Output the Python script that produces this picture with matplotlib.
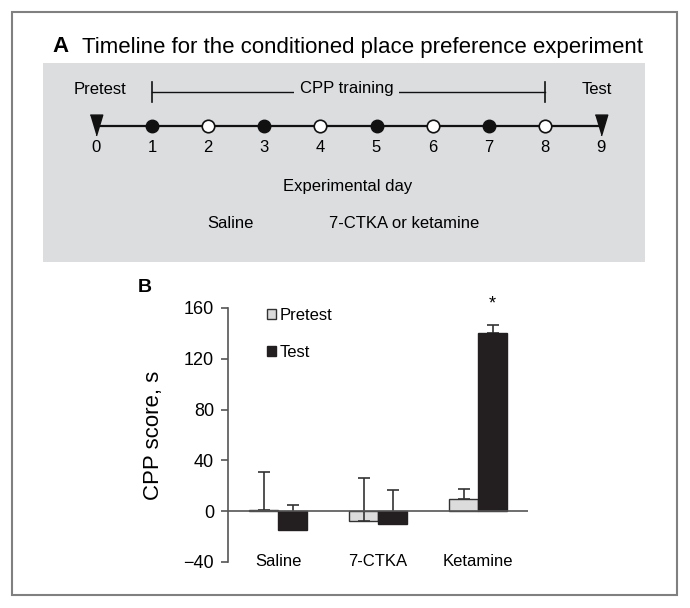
import matplotlib.pyplot as plt
import matplotlib.patches as patches
import numpy as np

plt.rcParams['font.family'] = ['Liberation Sans', 'DejaVu Sans']

# Timeline data (panel A)
days = np.arange(10)
saline_days = [1, 3, 5, 7]
drug_days = [2, 4, 6, 8]
test_days = [0, 9]

# CPP scores (panel B)
groups = ['Saline', '7-CTKA', 'Ketamine']
pretest = [1, -8, 10]
test = [-15, -10, 140]
pretest_err = [30, 34, 7.5]
test_err = [19.5, 26.5, 7]

W, H = 690, 608
fig = plt.figure(figsize=(W / 100, H / 100), dpi=100)

def fig_box(x0, y0, x1, y1):
    # pixel box (top-left origin) -> figure fraction rect
    return [x0 / W, 1 - y1 / H, (x1 - x0) / W, (y1 - y0) / H]

# outer frame
frame = fig_box(12, 12, 677, 595)
fig.patches.append(patches.Rectangle((frame[0], frame[1]), frame[2], frame[3],
                                     transform=fig.transFigure, fill=False,
                                     edgecolor='#808080', lw=1.5))

# ---- Panel A ----
fig.text(52 / W, 1 - 47 / H, 'A', fontsize=16, fontweight='bold', va='center')
fig.text(82 / W, 1 - 47 / H, 'Timeline for the conditioned place preference experiment',
         fontsize=16, va='center')

axA = fig.add_axes(fig_box(43, 63, 645, 262))
axA.set_facecolor('#dcdddf')
px_day = 56.1
xmin = -(96 - 43) / px_day
axA.set_xlim(xmin, xmin + 602 / px_day)
axA.set_ylim(262, 63)
for s in axA.spines.values():
    s.set_visible(False)
axA.set_xticks([])
axA.set_yticks([])

line_y = 126
axA.plot([days[0], days[-1]], [line_y, line_y], color='#111111', lw=1.6, zorder=2)
tri = [(-0.6, 1), (0.6, 1), (0, -1)]
axA.plot(test_days, [line_y - 1] * len(test_days), linestyle='none', marker=tri,
         markersize=15, color='#111111', zorder=3)
axA.plot(saline_days, [line_y] * len(saline_days), linestyle='none', marker='o',
         markersize=9, color='#111111', zorder=3)
axA.plot(drug_days, [line_y] * len(drug_days), linestyle='none', marker='o',
         markersize=9, markerfacecolor='white', markeredgecolor='#111111',
         markeredgewidth=1.2, zorder=3)
for d in days:
    axA.text(d, 147, str(d), ha='center', va='center', fontsize=12)

# CPP training bracket
br_y = 92
axA.plot([saline_days[0], drug_days[-1]], [br_y, br_y], color='#111111', lw=1)
for d in [saline_days[0], drug_days[-1]]:
    axA.plot([d, d], [br_y - 10, br_y + 10], color='#111111', lw=1.2)
axA.text(4.47, 89, 'CPP training', ha='center', va='center', fontsize=12,
         bbox=dict(facecolor='#dcdddf', edgecolor='none', pad=4))
axA.text(0.07, 89, 'Pretest', ha='center', va='center', fontsize=12)
axA.text(8.93, 89, 'Test', ha='center', va='center', fontsize=12)
axA.text(4.49, 186, 'Experimental day', ha='center', va='center', fontsize=12)
axA.text(2.39, 224, 'Saline', ha='center', va='center', fontsize=12)
axA.text(5.49, 224, '7-CTKA or ketamine', ha='center', va='center', fontsize=12)

# ---- Panel B ----
fig.text(145 / W, 1 - 288 / H, 'B', fontsize=14, fontweight='bold', ha='center', va='center')

ax = fig.add_axes(fig_box(228, 308, 528, 562))
x = np.arange(len(groups))
bw = 0.29
err_kw = dict(ecolor='#333333', elinewidth=1.2, capsize=4.3, capthick=1.2)
ax.bar(x - bw / 2, pretest, bw, color='#dcdcdc', edgecolor='#333333', lw=1,
       label='Pretest', zorder=2)
ax.bar(x + bw / 2, test, bw, color='#231f20', edgecolor='#231f20', lw=1,
       label='Test', zorder=2)
ax.errorbar(x - bw / 2, pretest, yerr=[[0] * 3, pretest_err], fmt='none', zorder=3, **err_kw)
ax.errorbar(x + bw / 2, test, yerr=[[0] * 3, test_err], fmt='none', zorder=1.5, **err_kw)
ax.axhline(0, color='#555555', lw=1.2, zorder=4)

ax.set_xlim(-0.5, 2.5)
ax.set_ylim(-40, 160)
ax.set_yticks([-40, 0, 40, 80, 120, 160])
ax.set_yticklabels(['\u221240', '0', '40', '80', '120', '160'])
ax.tick_params(axis='y', length=5, width=1.2, color='#555555', labelsize=13, pad=5)
ax.set_xticks([])
for s in ['top', 'right', 'bottom']:
    ax.spines[s].set_visible(False)
ax.spines['left'].set_color('#555555')
ax.spines['left'].set_linewidth(1.2)
ax.set_ylabel('CPP score, s', fontsize=16, labelpad=14)

for i, g in enumerate(groups):
    ax.text(x[i], -40, g, ha='center', va='center', fontsize=12)

ax.text(x[2] + bw / 2, 163, '*', ha='center', va='center', fontsize=13, clip_on=False)

ax.legend(loc='upper left', bbox_to_anchor=(267 / W, 1 - 308 / H),
          bbox_transform=fig.transFigure, frameon=False, fontsize=12,
          handlelength=0.55, handleheight=0.55, handletextpad=0.2,
          labelspacing=1.3, borderpad=0, borderaxespad=0)

fig.savefig('out.png', dpi=100)
